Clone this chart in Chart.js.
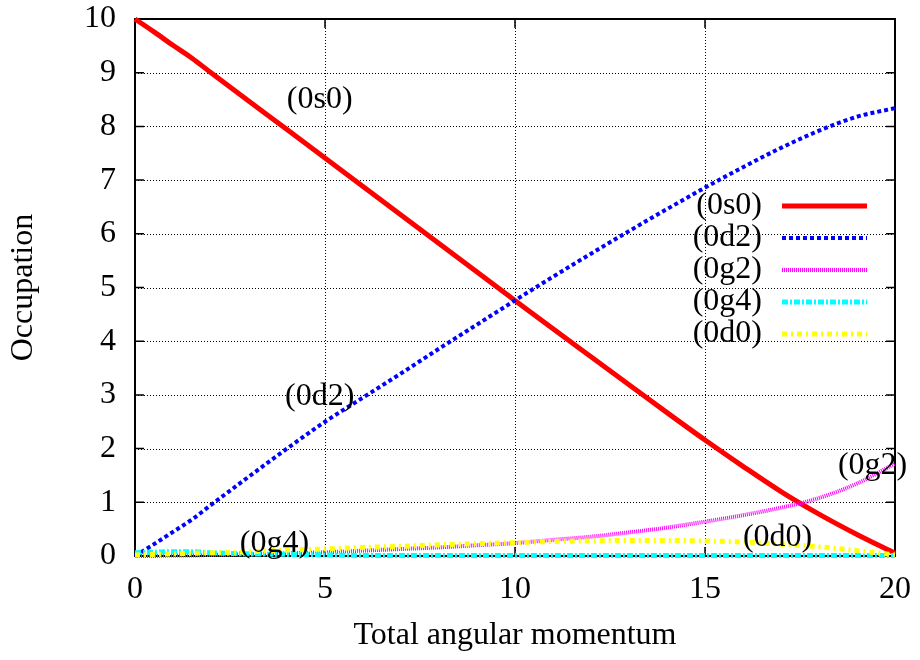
<!DOCTYPE html>
<html>
<head>
<meta charset="utf-8">
<script src="https://cdn.jsdelivr.net/npm/chart.js@4.4.0/dist/chart.umd.min.js"></script>
<style>
  html, body { margin: 0; padding: 0; background: #ffffff; }
  #wrap { width: 920px; height: 660px; }
</style>
</head>
<body>
<div id="wrap"><canvas id="c" width="920" height="660"></canvas></div>
<script>
// ---- data ----
const angMom = [0, 0.5, 1, 1.5, 2, 3, 4, 5, 6, 7, 8, 9, 10, 11, 12, 13, 14, 15, 16, 17, 18, 19, 20];
const occ0s0 = [10, 9.76, 9.51, 9.27, 9.0, 8.47, 7.94, 7.41, 6.88, 6.35, 5.82, 5.29, 4.76, 4.23, 3.71, 3.19, 2.67, 2.16, 1.67, 1.2, 0.78, 0.4, 0.05];
const occ0d2 = [0, 0.22, 0.45, 0.68, 0.95, 1.48, 2.0, 2.5, 2.95, 3.4, 3.86, 4.31, 4.76, 5.2, 5.63, 6.05, 6.46, 6.86, 7.24, 7.6, 7.92, 8.18, 8.34];
const occ0g2 = [0, 0, 0.01, 0.01, 0.02, 0.03, 0.05, 0.07, 0.1, 0.13, 0.16, 0.2, 0.24, 0.3, 0.36, 0.44, 0.53, 0.64, 0.76, 0.9, 1.08, 1.35, 1.72];
const occ0g4 = [0.06, 0.07, 0.08, 0.08, 0.06, 0.04, 0.03, 0.02, 0.01, 0.01, 0.01, 0.01, 0.01, 0.01, 0.01, 0.01, 0.01, 0.01, 0.01, 0.01, 0.01, 0.01, 0.01];
const occ0d0 = [0.02, 0.03, 0.04, 0.05, 0.06, 0.08, 0.11, 0.13, 0.16, 0.18, 0.21, 0.23, 0.25, 0.27, 0.28, 0.29, 0.29, 0.28, 0.26, 0.22, 0.17, 0.1, 0.02];
const seriesNames = ["(0s0)", "(0d2)", "(0g2)", "(0g4)", "(0d0)"];
const xTicks = [0, 5, 10, 15, 20];
const yTicks = [0, 1, 2, 3, 4, 5, 6, 7, 8, 9, 10];
// in-plot curve labels: text, x value, y value
const labelTexts = ["(0s0)", "(0d2)", "(0g2)", "(0d0)", "(0g4)"];
const labelX = [4.86, 4.86, 19.41, 16.91, 3.67];
const labelY = [8.49, 2.96, 1.68, 0.35, 0.24];

const FONT = "'Liberation Serif', 'Times New Roman', serif";

function pts(ys) { return angMom.map((x, i) => ({ x: x, y: ys[i] })); }

const styles = [
  { color: '#ff0000', width: 5, dash: [] },
  { color: '#0000ff', width: 4, dash: [4, 3] },
  { color: '#ff00ff', width: 4, dash: [1, 1] },
  { color: '#00ffff', width: 5, dash: [6, 2, 2, 2] },
  { color: '#ffff00', width: 5, dash: [5, 4, 2, 4] }
];
const allSeries = [occ0s0, occ0d2, occ0g2, occ0g4, occ0d0];

const datasets = allSeries.map((ys, i) => ({
  label: seriesNames[i],
  data: pts(ys),
  borderColor: styles[i].color,
  borderWidth: styles[i].width,
  borderDash: styles[i].dash,
  pointRadius: 0,
  fill: false,
  cubicInterpolationMode: 'monotone',
  clip: false,
  order: 5 - i
}));

const framePlugin = {
  id: 'frame',
  beforeDatasetsDraw(chart) {
    const { ctx, chartArea: a, scales } = chart;
    const xs = scales.x, ys = scales.y;
    ctx.save();
    // dotted grid
    ctx.strokeStyle = '#000';
    ctx.lineWidth = 1;
    ctx.setLineDash([1, 2]);
    xTicks.forEach(v => {
      const px = Math.round(xs.getPixelForValue(v)) + 0.5;
      ctx.beginPath(); ctx.moveTo(px, a.top); ctx.lineTo(px, a.bottom); ctx.stroke();
    });
    yTicks.forEach(v => {
      const py = Math.round(ys.getPixelForValue(v)) + 0.5;
      ctx.beginPath(); ctx.moveTo(a.left, py); ctx.lineTo(a.right, py); ctx.stroke();
    });
    ctx.setLineDash([]);
    // border
    ctx.lineWidth = 2;
    ctx.strokeRect(a.left, a.top, a.right - a.left, a.bottom - a.top);
    // inward ticks on all sides
    const tl = 9;
    ctx.lineWidth = 1.5;
    xTicks.forEach(v => {
      const px = xs.getPixelForValue(v);
      ctx.beginPath();
      ctx.moveTo(px, a.bottom); ctx.lineTo(px, a.bottom - tl);
      ctx.moveTo(px, a.top); ctx.lineTo(px, a.top + tl);
      ctx.stroke();
    });
    yTicks.forEach(v => {
      const py = ys.getPixelForValue(v);
      ctx.beginPath();
      ctx.moveTo(a.left, py); ctx.lineTo(a.left + tl, py);
      ctx.moveTo(a.right, py); ctx.lineTo(a.right - tl, py);
      ctx.stroke();
    });
    ctx.restore();
  },
  afterDatasetsDraw(chart) {
    const { ctx, scales } = chart;
    ctx.save();
    ctx.font = '32px ' + FONT;
    ctx.fillStyle = '#000';
    // curve labels
    ctx.textAlign = 'center';
    ctx.textBaseline = 'middle';
    labelTexts.forEach((t, i) => {
      ctx.fillText(t, scales.x.getPixelForValue(labelX[i]), scales.y.getPixelForValue(labelY[i]));
    });
    // key
    const textRight = 762, lineL = 782, lineR = 867, row0 = 206, rowH = 32;
    chart.data.datasets.forEach((ds, i) => {
      const yy = row0 + i * rowH;
      ctx.fillStyle = '#000';
      ctx.textAlign = 'right';
      ctx.fillText(ds.label, textRight, yy);
      ctx.strokeStyle = ds.borderColor;
      ctx.lineWidth = ds.borderWidth;
      ctx.setLineDash(ds.borderDash);
      ctx.beginPath(); ctx.moveTo(lineL, yy); ctx.lineTo(lineR, yy); ctx.stroke();
    });
    ctx.restore();
  }
};

new Chart(document.getElementById('c'), {
  type: 'line',
  data: { datasets: datasets },
  options: {
    responsive: false,
    animation: false,
    events: [],
    layout: { padding: { top: 19, right: 25, left: 0, bottom: 0 } },
    plugins: { legend: { display: false }, tooltip: { enabled: false } },
    scales: {
      x: {
        type: 'linear', min: 0, max: 20,
        afterFit(s) { s.height = 104; s.paddingLeft = 0; s.paddingRight = 0; },
        afterBuildTicks(s) { s.ticks = xTicks.map(v => ({ value: v })); },
        grid: { display: false, drawTicks: false },
        border: { display: false },
        ticks: { color: '#000', font: { family: FONT, size: 32 }, padding: 14, maxRotation: 0, autoSkip: false },
        title: { display: true, text: 'Total angular momentum', color: '#000', font: { family: FONT, size: 32 }, padding: { top: 0, bottom: 5 } }
      },
      y: {
        type: 'linear', min: 0, max: 10,
        afterFit(s) { s.width = 135; s.paddingTop = 0; s.paddingBottom = 0; },
        afterBuildTicks(s) { s.ticks = yTicks.map(v => ({ value: v })); },
        grid: { display: false, drawTicks: false },
        border: { display: false },
        ticks: { color: '#000', font: { family: FONT, size: 32 }, padding: 19, autoSkip: false },
        title: { display: true, text: 'Occupation', color: '#000', font: { family: FONT, size: 32 }, padding: { top: 4, bottom: 0 } }
      }
    }
  },
  plugins: [framePlugin]
});
</script>
</body>
</html>
